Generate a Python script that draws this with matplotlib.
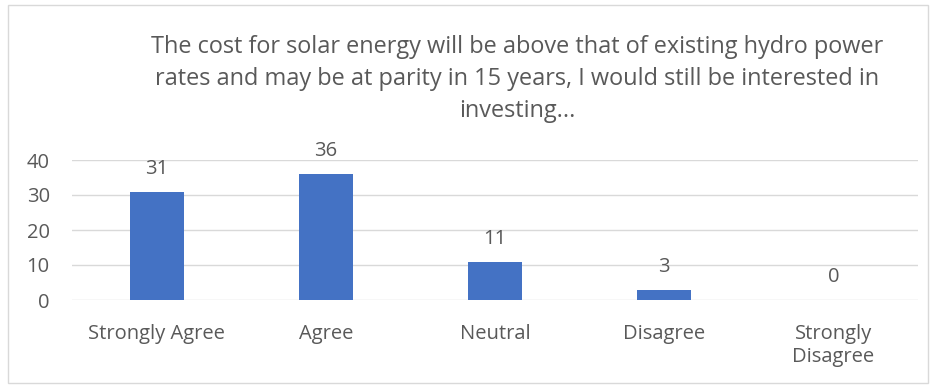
import matplotlib
matplotlib.use("Agg")
from matplotlib import pyplot as plt
from matplotlib.patches import Rectangle

categories = ["Strongly Agree", "Agree", "Neutral", "Disagree", "Strongly\nDisagree"]
counts = [31, 36, 11, 3, 0]
yticks = [0, 10, 20, 30, 40]
title = ("The cost for solar energy will be above that of existing hydro power\n"
         "rates and may be at parity in 15 years, I would still be interested in\n"
         "investing...")

plt.rcParams['font.family'] = ['Open Sans', 'DejaVu Sans']
text_color = "#595959"

fig = plt.figure(figsize=(9.35, 3.85), dpi=100)
ax = fig.add_axes([72 / 935, 1 - 300 / 385, 846 / 935, 140 / 385])

x = list(range(len(categories)))
ax.bar(x, counts, width=0.32, color="#4472c4", zorder=3)
for xi, v in zip(x, counts):
    ax.annotate(str(v), (xi, v), xytext=(0, 9), textcoords="offset points",
                ha="center", va="bottom", fontsize=14.5, color=text_color)

ax.set_xlim(-0.5, len(categories) - 0.5)
ax.set_ylim(0, 40)
ax.set_yticks(yticks)
ax.set_xticks(x)
ax.set_xticklabels(categories)
ax.grid(axis="y", color="#d9d9d9", linewidth=1, zorder=0)
for s in ax.spines.values():
    s.set_visible(False)
ax.tick_params(axis="both", length=0, labelsize=14.5, labelcolor=text_color)
ax.tick_params(axis="x", pad=17)
ax.tick_params(axis="y", pad=16)
for lab in ax.get_xticklabels():
    lab.set_linespacing(1.2)

fig.text(517 / 935, 1 - 79 / 385, title, ha="center", va="center",
         fontsize=16.9, color=text_color, linespacing=1.45)

fig.patches.append(Rectangle((8 / 935, 2 / 385), 920 / 935, 378 / 385,
                             transform=fig.transFigure, fill=False,
                             edgecolor="#d9d9d9", linewidth=1))

fig.savefig("out.png", dpi=100)
